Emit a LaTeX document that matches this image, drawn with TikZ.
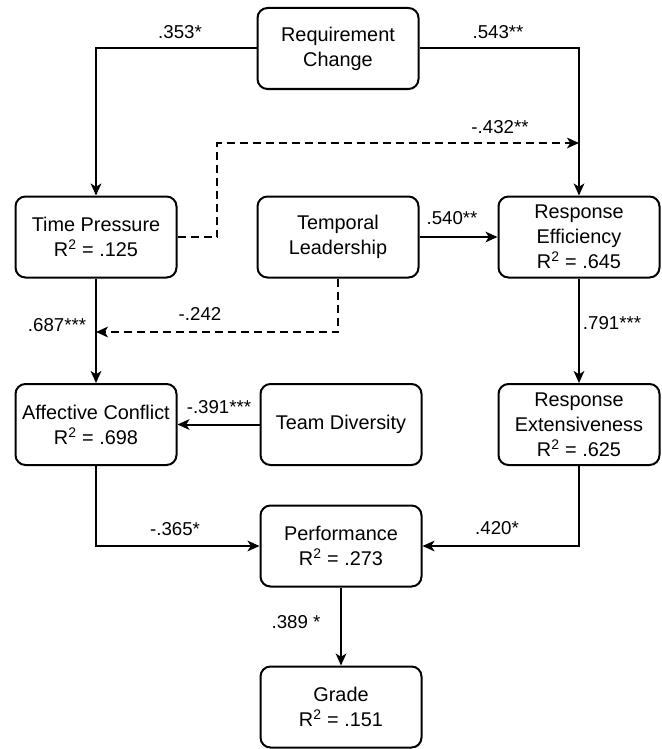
\documentclass[tikz,border=0pt]{standalone}
\usepackage{fontspec}
\setmainfont{Liberation Sans}
\usetikzlibrary{arrows.meta,positioning}

\tikzset{
  varbox/.style={draw, line width=1.5pt, rounded corners=7.5pt, align=center,
    minimum width=120.75pt, minimum height=60.75pt, inner sep=2pt,
    font=\fontsize{14.9pt}{18.8pt}\selectfont},
  coef/.style={font=\fontsize{14pt}{17pt}\selectfont, inner sep=1pt},
  path/.style={line width=1.5pt, -{Stealth[length=9pt,width=8pt,inset=2.5pt]}},
  dpath/.style={path, dash pattern=on 6pt off 3.75pt}
}

\begin{document}
\begin{tikzpicture}[x=0.75pt,y=0.75pt,yscale=-1,xscale=1]
\useasboundingbox (0,0) rectangle (661,749);

% Variables
\node[varbox] (req) at (338,48.5) {Requirement\\Change};
\node[varbox] (tp) at (96,237) {Time Pressure\\R\textsuperscript{2} = .125};
\node[varbox] (tl) at (338,237) {Temporal\\Leadership};
\node[varbox] (re) at (579,237) {Response\\Efficiency\\R\textsuperscript{2} = .645};
\node[varbox] (ac) at (96,424.5) {Affective Conflict\\R\textsuperscript{2} = .698};
\node[varbox] (td) at (341,424.5) {Team Diversity};
\node[varbox] (rx) at (579,424.5) {Response\\Extensiveness\\R\textsuperscript{2} = .625};
\node[varbox] (perf) at (341,546) {Performance\\R\textsuperscript{2} = .273};
\node[varbox] (grade) at (341,707) {Grade\\R\textsuperscript{2} = .151};

% Bends of the dashed paths
\coordinate (tpbend) at (217,143);
\coordinate (rejoin) at (re.north |- tpbend);
\coordinate (tljoin) at (tp.south |- 0,332);

% Paths
\draw[path] (req.west) -| (tp.north);
\draw[path] (req.east) -| (re.north);
\draw[dpath] (tp.east) -| (tpbend) -- (rejoin);
\draw[path] (tl.east) -- (re.west);
\draw[dpath] (tl.south) |- (tljoin);
\draw[path] (tp.south) -- (ac.north);
\draw[path] (re.south) -- (rx.north);
\draw[path] (td.west) -- (ac.east);
\draw[path] (ac.south) |- (perf.west);
\draw[path] (rx.south) |- (perf.east);
\draw[path] (perf.south) -- (grade.north);

% Coefficients
\node[coef] (c1) at (180,32) {.353*};
\node[coef] (c2) at (498,32) {.543**};
\node[coef] (c3) at (500,127) {-.432**};
\node[coef] (c4) at (452,218) {.540**};
\node[coef] (c5) at (57,325) {.687***};
\node[coef] (c6) at (200,314) {-.242};
\node[coef] (c7) at (612,323) {.791***};
\node[coef] (c8) at (219,407) {-.391***};
\node[coef] (c9) at (175,529) {-.365*};
\node[coef] (c10) at (497,528) {.420*};
\node[coef] (c11) at (296,622) {.389 *};

\end{tikzpicture}
\end{document}
